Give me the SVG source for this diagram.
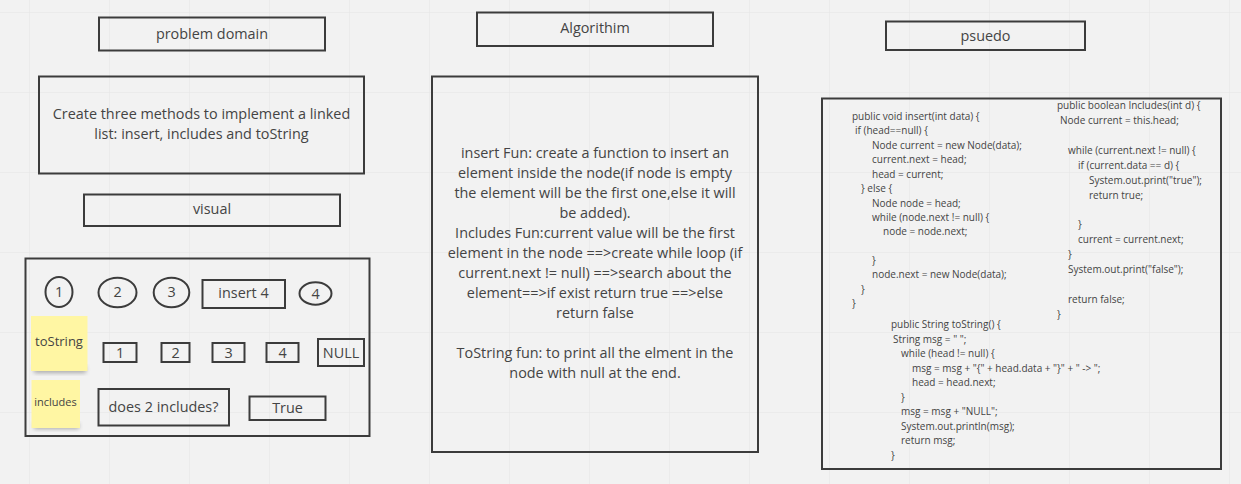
<svg xmlns="http://www.w3.org/2000/svg" width="1241" height="484" viewBox="0 0 1241 484">
<defs>
<pattern id="grid" x="29" y="12" width="80" height="80" patternUnits="userSpaceOnUse">
<path d="M0 0 H80 M0 0 V80" fill="none" stroke="#e4e4e4" stroke-width="1"/>
</pattern>
<filter id="sh" x="-20%" y="-20%" width="140%" height="160%">
<feGaussianBlur stdDeviation="2"/>
</filter>
<style>
.box{fill:none;stroke:#3c3c3c;stroke-width:2}
.t{font-family:"Open Sans","Liberation Sans",sans-serif;fill:#444;text-anchor:middle}
.m{font-size:14.4px}
.c{font-family:"Open Sans","Liberation Sans",sans-serif;fill:#444;font-size:10px}
.sticky{fill:#fff6a3}
.shadow{fill:#555;opacity:0.45}
</style>
</defs>
<rect width="1241" height="484" fill="#f2f2f2"/>
<rect width="1241" height="484" fill="url(#grid)"/>

<g id="problem-domain">
<rect class="box" x="99" y="17.5" width="226" height="33"/>
<text class="t m" x="212" y="39">problem domain</text>
</g>

<g id="problem-text">
<rect class="box" x="39" y="76.5" width="325" height="97"/>
<text class="t m" x="201.5" y="119">Create three methods to implement a linked</text>
<text class="t m" x="201.5" y="139">list: insert, includes and toString</text>
</g>

<g id="visual-label">
<rect class="box" x="84" y="194.5" width="256" height="31.5"/>
<text class="t m" x="212" y="214">visual</text>
</g>

<g id="visual">
<rect class="box" x="25.5" y="258.5" width="344" height="177.5"/>
<g id="c1"><ellipse class="box" cx="59" cy="292" rx="13.5" ry="15"/><text class="t m" x="59" y="297">1</text></g>
<g id="c2"><ellipse class="box" cx="117.5" cy="292.5" rx="19" ry="14.8"/><text class="t m" x="117.5" y="297">2</text></g>
<g id="c3"><ellipse class="box" cx="171.5" cy="292.5" rx="17.8" ry="14.8"/><text class="t m" x="171.5" y="297">3</text></g>
<g id="insert4"><rect class="box" x="202.5" y="280" width="82.5" height="28"/><text class="t m" x="243.5" y="298">insert 4</text></g>
<g id="c4"><ellipse class="box" cx="315.5" cy="293.5" rx="16" ry="11.2"/><text class="t m" x="315.5" y="298.5">4</text></g>
<g id="tostring-note">
<rect class="shadow" x="34" y="366" width="52" height="7" filter="url(#sh)"/>
<rect class="sticky" x="31" y="316" width="56.5" height="55"/>
<text class="t" font-size="13" x="59" y="346">toString</text>
</g>
<g id="r1"><rect class="box" x="103.5" y="343" width="33" height="19"/><text class="t m" x="120" y="357.5">1</text></g>
<g id="r2"><rect class="box" x="161.5" y="343" width="28" height="19"/><text class="t m" x="175.5" y="357.5">2</text></g>
<g id="r3"><rect class="box" x="212.5" y="343" width="32" height="19"/><text class="t m" x="228.5" y="357.5">3</text></g>
<g id="r4"><rect class="box" x="266.5" y="343" width="32" height="19"/><text class="t m" x="282.5" y="357.5">4</text></g>
<g id="rnull"><rect class="box" x="318" y="339" width="46" height="27"/><text class="t m" x="341" y="357.5">NULL</text></g>
<g id="includes-note">
<rect class="shadow" x="34" y="423" width="45" height="6" filter="url(#sh)"/>
<rect class="sticky" x="31.5" y="380" width="48.5" height="48"/>
<text class="t" font-size="11" x="55.5" y="406">includes</text>
</g>
<g id="does2"><rect class="box" x="98.5" y="389" width="130.5" height="36.5"/><text class="t m" x="163.5" y="412">does 2 includes?</text></g>
<g id="true"><rect class="box" x="249.5" y="396.5" width="76" height="23.5"/><text class="t m" x="287.5" y="413">True</text></g>
</g>

<g id="algorithm-label">
<rect class="box" x="477" y="12.5" width="236" height="33.5"/>
<text class="t m" x="595" y="33">Algorithim</text>
</g>

<g id="algorithm">
<rect class="box" x="432" y="76.5" width="326" height="375.5"/>
<text class="t m" x="595" y="158">insert Fun: create a function to insert an</text>
<text class="t m" x="595" y="178">element inside the node(if node is empty</text>
<text class="t m" x="595" y="198">the element will be the first one,else it will</text>
<text class="t m" x="595" y="218">be added).</text>
<text class="t m" x="595" y="238">Includes Fun:current value will be the first</text>
<text class="t m" x="595" y="258">element in the node ==&gt;create while loop (if</text>
<text class="t m" x="595" y="278">current.next != null) ==&gt;search about the</text>
<text class="t m" x="595" y="298">element==&gt;if exist return true ==&gt;else</text>
<text class="t m" x="595" y="318">return false</text>
<text class="t m" x="595" y="358">ToString fun: to print all the elment in the</text>
<text class="t m" x="595" y="378">node with null at the end.</text>
</g>

<g id="psuedo-label">
<rect class="box" x="886" y="21.5" width="199" height="28.5"/>
<text class="t m" x="985.5" y="41">psuedo</text>
</g>

<g id="psuedo">
<rect class="box" x="822" y="98.5" width="399" height="370.5"/>
<g id="insert-code">
<text class="c" x="852" y="120">public void insert(int data) {</text>
<text class="c" x="855" y="134">if (head==null) {</text>
<text class="c" x="872" y="149">Node current = new Node(data);</text>
<text class="c" x="872" y="163">current.next = head;</text>
<text class="c" x="872" y="178">head = current;</text>
<text class="c" x="861" y="192">} else {</text>
<text class="c" x="872" y="207">Node node = head;</text>
<text class="c" x="872" y="221">while (node.next != null) {</text>
<text class="c" x="883" y="235">node = node.next;</text>
<text class="c" x="872" y="264">}</text>
<text class="c" x="872" y="278">node.next = new Node(data);</text>
<text class="c" x="861" y="293">}</text>
<text class="c" x="852" y="307">}</text>
</g>
<g id="includes-code">
<text class="c" x="1057" y="109">public boolean Includes(int d) {</text>
<text class="c" x="1060" y="124">Node current = this.head;</text>
<text class="c" x="1068" y="154">while (current.next != null) {</text>
<text class="c" x="1078" y="169">if (current.data == d) {</text>
<text class="c" x="1089" y="184">System.out.print("true");</text>
<text class="c" x="1089" y="199">return true;</text>
<text class="c" x="1078" y="228">}</text>
<text class="c" x="1078" y="243">current = current.next;</text>
<text class="c" x="1068" y="258">}</text>
<text class="c" x="1068" y="273">System.out.print("false");</text>
<text class="c" x="1068" y="303">return false;</text>
<text class="c" x="1057" y="318">}</text>
</g>
<g id="tostring-code">
<text class="c" x="891" y="328">public String toString() {</text>
<text class="c" x="893" y="343">String msg = " ";</text>
<text class="c" x="901" y="357">while (head != null) {</text>
<text class="c" x="912" y="372">msg = msg + "{" + head.data + "}" + " -&gt; ";</text>
<text class="c" x="912" y="386">head = head.next;</text>
<text class="c" x="901" y="401">}</text>
<text class="c" x="901" y="415">msg = msg + "NULL";</text>
<text class="c" x="901" y="430">System.out.println(msg);</text>
<text class="c" x="901" y="444">return msg;</text>
<text class="c" x="891" y="459">}</text>
</g>
</g>

<g id="connectors"></g>
</svg>
